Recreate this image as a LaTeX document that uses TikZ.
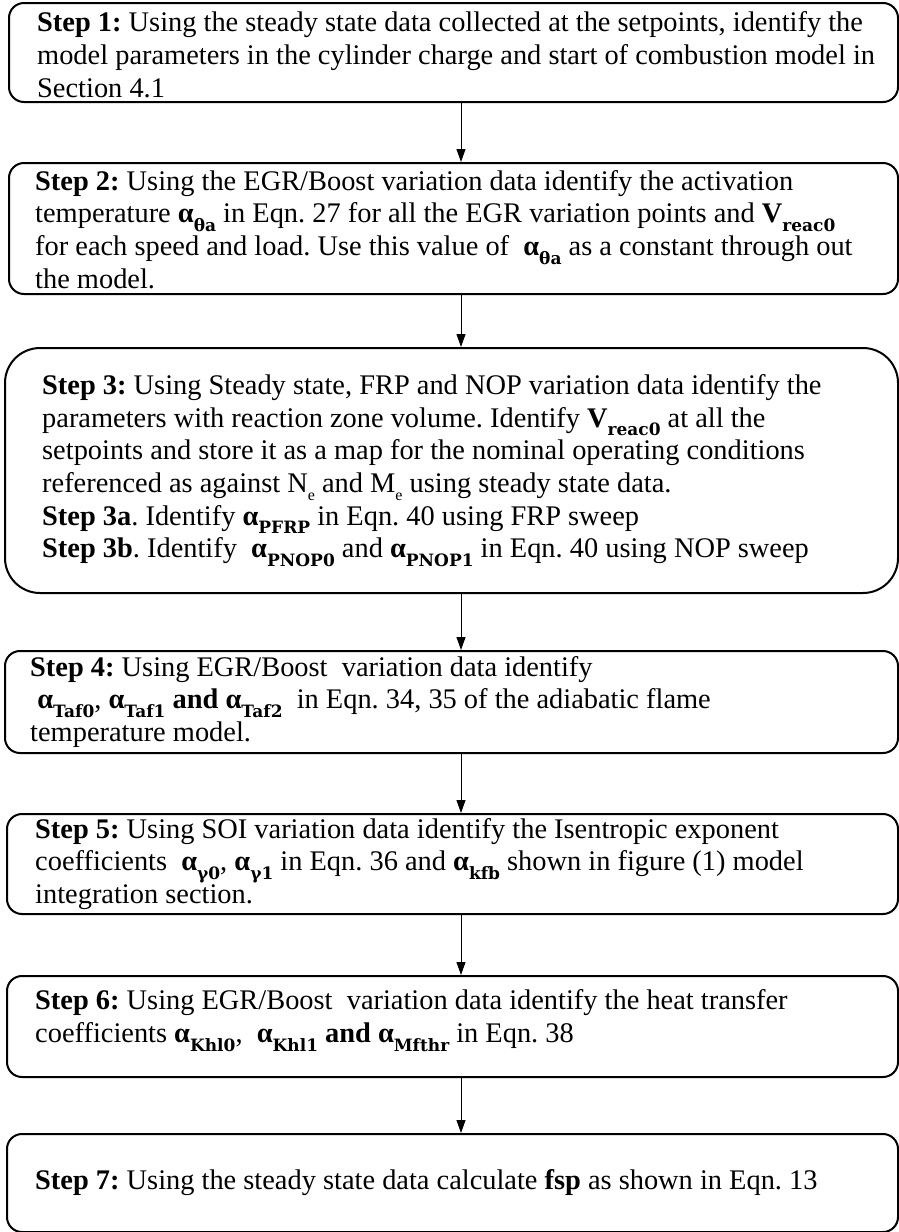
\documentclass[tikz,border=0pt]{standalone}
\usepackage{fontspec}
\setmainfont{Liberation Serif}
\newfontfamily\subfont{DejaVu Serif}
\usetikzlibrary{arrows.meta}
\frenchspacing
\newcommand{\lo}[1]{\raisebox{-0.3em}{\fontsize{17}{17}\selectfont\subfont\bfseries #1}}
\newcommand{\al}[1]{\textbf{α}\lo{#1}}
\newcommand{\los}[1]{\raisebox{-0.28em}{\fontsize{16}{16}\selectfont #1}}
\tikzset{
  stepbox/.style={draw, line width=2pt, rounded corners=15pt, anchor=north west, inner sep=0pt},
  steptext/.style={align=left, anchor=west, inner sep=0pt, font=\fontsize{28.4}{32.7}\selectfont},
  flow/.style={line width=1pt, -{Triangle[length=13pt,width=9pt]}}
}
\begin{document}
\begin{tikzpicture}[x=1pt,y=-1pt]
\useasboundingbox (0,0) rectangle (898,1232);
% boxes
\node[stepbox, minimum width=889pt, minimum height=99pt] (b1) at (8,2) {};
\node[stepbox, minimum width=889pt, minimum height=131pt] (b2) at (8,162) {};
\node[stepbox, rounded corners=35pt, minimum width=893pt, minimum height=245pt] (b3) at (4,347) {};
\node[stepbox, minimum width=893pt, minimum height=102pt] (b4) at (4,650) {};
\node[stepbox, minimum width=891pt, minimum height=100pt] (b5) at (6,813) {};
\node[stepbox, minimum width=891pt, minimum height=101pt] (b6) at (6,975) {};
\node[stepbox, minimum width=891pt, minimum height=98pt] (b7) at (6,1133) {};
% texts
\node[steptext] (t1) at ([xshift=29pt,yshift=-2pt]b1.west)
 {\textbf{Step 1:} Using the steady state data collected at the setpoints, identify the\\
  model parameters in the cylinder charge and start of combustion model in\\
  Section 4.1};
\node[steptext] (t2) at ([xshift=27pt,yshift=-1pt]b2.west)
 {\textbf{Step 2:} Using the EGR/Boost variation data identify the activation\\
  temperature \al{θa} in Eqn. 27 for all the EGR variation points and \textbf{V}\lo{reac0}\\
  for each speed and load. Use this value of \ \al{θa} as a constant through out\\
  the model.};
\node[steptext] (t3) at ([xshift=38pt]b3.west)
 {\textbf{Step 3:} Using Steady state, FRP and NOP variation data identify the\\
  parameters with reaction zone volume. Identify \textbf{V}\lo{reac0} at all the\\
  setpoints and store it as a map for the nominal operating conditions\\
  referenced as against N\los{e} and M\los{e} using steady state data.\\
  \textbf{Step 3a}. Identify \al{PFRP} in Eqn. 40 using FRP sweep\\
  \textbf{Step 3b}. Identify \ \al{PNOP0} and \al{PNOP1} in Eqn. 40 using NOP sweep};
\node[steptext] (t4) at ([xshift=26pt]b4.west)
 {\textbf{Step 4:} Using EGR/Boost \ variation data identify\\
  \ \al{Taf0}, \al{Taf1} \textbf{and} \al{Taf2} \ in Eqn. 34, 35 of the adiabatic flame\\
  temperature model.};
\node[steptext] (t5) at ([xshift=29pt]b5.west)
 {\textbf{Step 5:} Using SOI variation data identify the Isentropic exponent\\
  coefficients \ \al{γ0}, \al{γ1} in Eqn. 36 and \al{kfb} shown in figure (1) model\\
  integration section.};
\node[steptext] (t6) at ([xshift=29pt,yshift=6pt]b6.west)
 {\textbf{Step 6:} Using EGR/Boost \ variation data identify the heat transfer\\
  coefficients \al{Khl0}, \ \al{Khl1} \textbf{and} \al{Mfthr} in Eqn. 38};
\node[steptext] (t7) at ([xshift=29pt]b7.west)
 {\textbf{Step 7:} Using the steady state data calculate \textbf{fsp} as shown in Eqn. 13};
% connectors
\draw[flow] (b1.south -| 461,0) -- (b2.north -| 461,0);
\draw[flow] (b2.south -| 461,0) -- (b3.north -| 461,0);
\draw[flow] (b3.south -| 461,0) -- (b4.north -| 461,0);
\draw[flow] (b4.south -| 461,0) -- (b5.north -| 461,0);
\draw[flow] (b5.south -| 461,0) -- (b6.north -| 461,0);
\draw[flow] (b6.south -| 461,0) -- (b7.north -| 461,0);
\end{tikzpicture}
\end{document}
